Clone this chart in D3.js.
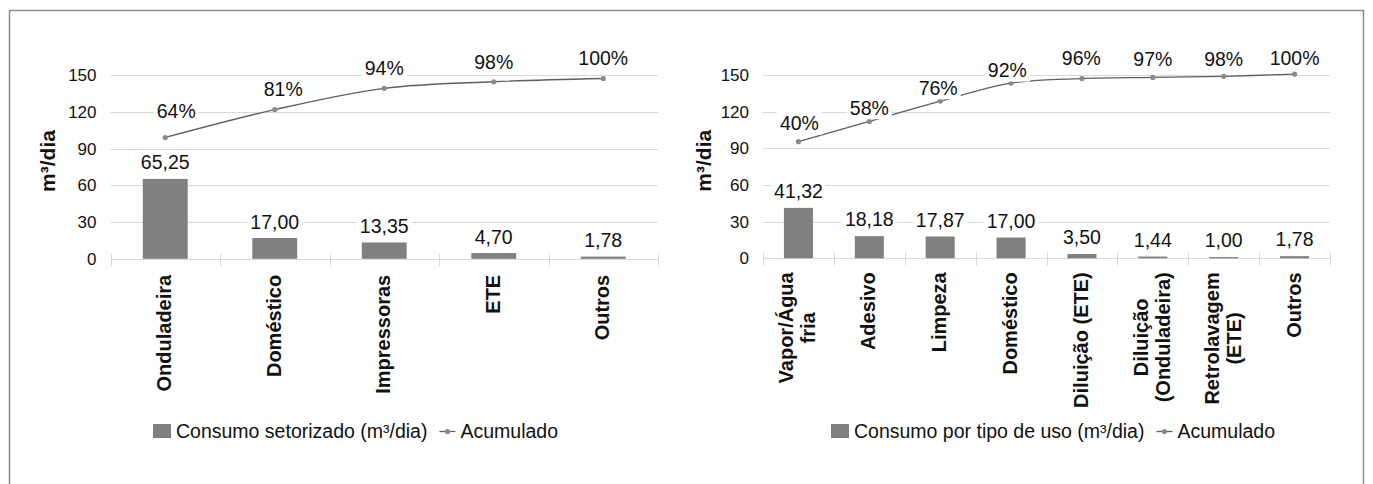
<!DOCTYPE html>
<html>
<head>
<meta charset="utf-8">
<script src="https://cdn.jsdelivr.net/npm/d3@7"></script>
<style>
  html, body { margin: 0; padding: 0; background: #fff; }
  svg { display: block; font-family: "Liberation Sans", Arial, sans-serif; }
</style>
</head>
<body>
<svg id="chart" width="1373" height="484"></svg>
<script>
// Consumo de água: setores (esquerda) e tipos de uso (direita)
const leftCategories = ["Onduladeira", "Doméstico", "Impressoras", "ETE", "Outros"];
const leftValues = [65.25, 17.00, 13.35, 4.70, 1.78];
const leftCumulative = [64, 81, 94, 98, 100];

const rightCategories = ["Vapor/Água\nfria", "Adesivo", "Limpeza", "Doméstico", "Diluição (ETE)",
  "Diluição\n(Onduladeira)", "Retrolavagem\n(ETE)", "Outros"];
const rightValues = [41.32, 18.18, 17.87, 17.00, 3.50, 1.44, 1.00, 1.78];
const rightCumulative = [40, 58, 76, 92, 96, 97, 98, 100];

const yTicks = [0, 30, 60, 90, 120, 150];
const yTitle = "m³/dia";
const leftLegend = ["Consumo setorizado (m³/dia)", "Acumulado"];
const rightLegend = ["Consumo por tipo de uso (m³/dia)", "Acumulado"];

const fmtValue = v => v.toFixed(2).replace(".", ",");
const fmtPct = p => p + "%";

const BAR = "#808080", GRID = "#d9d9d9", LINE = "#5f5f5f", DOT = "#8a8a8a", INK = "#111";

const svg = d3.select("#chart");
svg.append("rect").attr("width", 1373).attr("height", 484).attr("fill", "#fff");
// outer frame
svg.append("rect").attr("x", 9.5).attr("y", 10.5).attr("width", 1354).attr("height", 490)
  .attr("fill", "none").attr("stroke", "#8c8c8c").attr("stroke-width", 1.5);

function drawPareto(cfg) {
  const g = svg.append("g");
  const x = d3.scaleBand().domain(cfg.categories).range([cfg.x0, cfg.x1]).padding(0);
  const y = d3.scaleLinear().domain([0, 150]).range([cfg.yBottom, cfg.yTop]);
  const yPct = d3.scaleLinear().domain(cfg.pctDomain).range([cfg.yBottom, cfg.yTop]);
  const bw = x.bandwidth();
  const cx = c => x(c) + bw / 2;

  // gridlines
  g.append("g").selectAll("line").data(yTicks.slice(1)).join("line")
    .attr("x1", cfg.x0).attr("x2", cfg.x1)
    .attr("y1", d => Math.round(y(d)) + 0.5).attr("y2", d => Math.round(y(d)) + 0.5)
    .attr("stroke", GRID).attr("stroke-width", 1);

  // y axis labels
  const yAxis = d3.axisLeft(y).tickValues(yTicks).tickSize(0).tickPadding(0);
  const ya = g.append("g").attr("transform", `translate(${cfg.x0 - 14},0)`).call(yAxis);
  ya.select(".domain").remove();
  ya.selectAll("text").attr("font-size", 17).attr("fill", INK)
    .attr("font-family", "'Liberation Sans', Arial, sans-serif");

  // category axis with crossing ticks at band edges
  const y0 = Math.round(y(0)) + 0.5;
  g.append("line").attr("x1", cfg.x0).attr("x2", cfg.x1).attr("y1", y0).attr("y2", y0)
    .attr("stroke", GRID);
  const edges = cfg.categories.map(c => x(c)).concat([cfg.x1]);
  g.append("g").selectAll("line").data(edges).join("line")
    .attr("x1", d => Math.round(d) + 0.5).attr("x2", d => Math.round(d) + 0.5)
    .attr("y1", y0 - 6).attr("y2", y0 + 7).attr("stroke", GRID);

  // bars
  const barW = bw * 0.41;
  g.append("g").selectAll("rect").data(cfg.values).join("rect")
    .attr("x", (d, i) => cx(cfg.categories[i]) - barW / 2)
    .attr("y", d => y(d))
    .attr("width", barW)
    .attr("height", d => y(0) - y(d))
    .attr("fill", BAR);

  // cumulative line
  const line = d3.line()
    .x((d, i) => cx(cfg.categories[i]))
    .y(d => yPct(d))
    .curve(d3.curveCatmullRom.alpha(0.5));
  g.append("path").datum(cfg.cumulative).attr("d", line)
    .attr("fill", "none").attr("stroke", LINE).attr("stroke-width", 1.3);
  g.append("g").selectAll("circle").data(cfg.cumulative).join("circle")
    .attr("cx", (d, i) => cx(cfg.categories[i])).attr("cy", d => yPct(d))
    .attr("r", 2.6).attr("fill", DOT);

  // labels with white boxes
  function boxedLabel(px, py, text) {
    const lg = g.append("g");
    const r = lg.append("rect").attr("fill", "#fff");
    const t = lg.append("text").attr("x", px).attr("y", py).attr("dy", "0.36em")
      .attr("text-anchor", "middle").attr("font-size", 19.5).attr("fill", INK).text(text);
    const w = t.node().getComputedTextLength();
    r.attr("x", px - w / 2 - 3).attr("y", py - 11.5).attr("width", w + 6).attr("height", 23);
  }
  cfg.values.forEach((v, i) => {
    boxedLabel(cx(cfg.categories[i]), y(v) - cfg.valueGap, fmtValue(v));
  });
  cfg.cumulative.forEach((p, i) => {
    const n = cfg.pctNudge[i];
    boxedLabel(cx(cfg.categories[i]) + n[0], yPct(p) + n[1], fmtPct(p));
  });

  // rotated category labels (multi-line blocks centred on the band)
  cfg.categories.forEach(c => {
    const lines = c.split("\n");
    const t = g.append("g").attr("transform", `translate(${cx(c) - 1},${y(0) + cfg.catGap}) rotate(-90)`);
    const texts = lines.map(ln => t.append("text").text(ln)
      .attr("font-size", 20).attr("font-weight", "bold").attr("fill", INK));
    const maxW = d3.max(texts, tt => tt.node().getComputedTextLength());
    const lh = 22;
    texts.forEach((tt, j) => tt.attr("text-anchor", "middle").attr("x", -maxW / 2)
      .attr("y", (j - (lines.length - 1) / 2) * lh).attr("dy", "0.35em"));
  });

  // y title
  g.append("text").attr("transform", `translate(${cfg.titleX},${(cfg.yTop + cfg.yBottom) / 2 - 6}) rotate(-90)`)
    .attr("text-anchor", "middle").attr("dy", "0.35em")
    .attr("font-size", 21).attr("font-weight", "bold").attr("fill", INK).text(yTitle);

  // legend
  const lgY = 431;
  const leg = g.append("g");
  leg.append("rect").attr("x", cfg.legendX).attr("y", lgY - 7).attr("width", 18).attr("height", 14).attr("fill", BAR);
  const t1 = leg.append("text").attr("x", cfg.legendX + 23).attr("y", lgY).attr("dy", "0.36em")
    .attr("font-size", 19.5).attr("fill", INK).text(cfg.legend[0]);
  const end1 = cfg.legendX + 23 + t1.node().getComputedTextLength();
  const mx = end1 + 12;
  leg.append("line").attr("x1", mx).attr("x2", mx + 16).attr("y1", lgY + 0.5).attr("y2", lgY + 0.5)
    .attr("stroke", LINE).attr("stroke-width", 1.3);
  leg.append("circle").attr("cx", mx + 8).attr("cy", lgY + 0.5).attr("r", 2.6).attr("fill", DOT);
  leg.append("text").attr("x", mx + 21).attr("y", lgY).attr("dy", "0.36em")
    .attr("font-size", 19.5).attr("fill", INK).text(cfg.legend[1]);
}

drawPareto({
  categories: leftCategories, values: leftValues, cumulative: leftCumulative,
  x0: 110.5, x1: 658, yTop: 75.2, yBottom: 258.8,
  pctDomain: [-10, 102],
  pctNudge: [[11, -27], [8.5, -20.5], [0, -20], [0, -20], [0, -20]],
  valueGap: 16.5, catGap: 16, titleX: 48, legendX: 153, legend: leftLegend
});

drawPareto({
  categories: rightCategories, values: rightValues, cumulative: rightCumulative,
  x0: 763, x1: 1330, yTop: 75.2, yBottom: 258.3,
  pctDomain: [-63.5, 99],
  pctNudge: [[1, -18.4], [0, -13.7], [-2, -13.4], [-3.7, -13], [-0.6, -20.4], [0, -18.7], [0, -17.7], [0, -15.7]],
  valueGap: 17, catGap: 14, titleX: 703.5, legendX: 831, legend: rightLegend
});
</script>
</body>
</html>
